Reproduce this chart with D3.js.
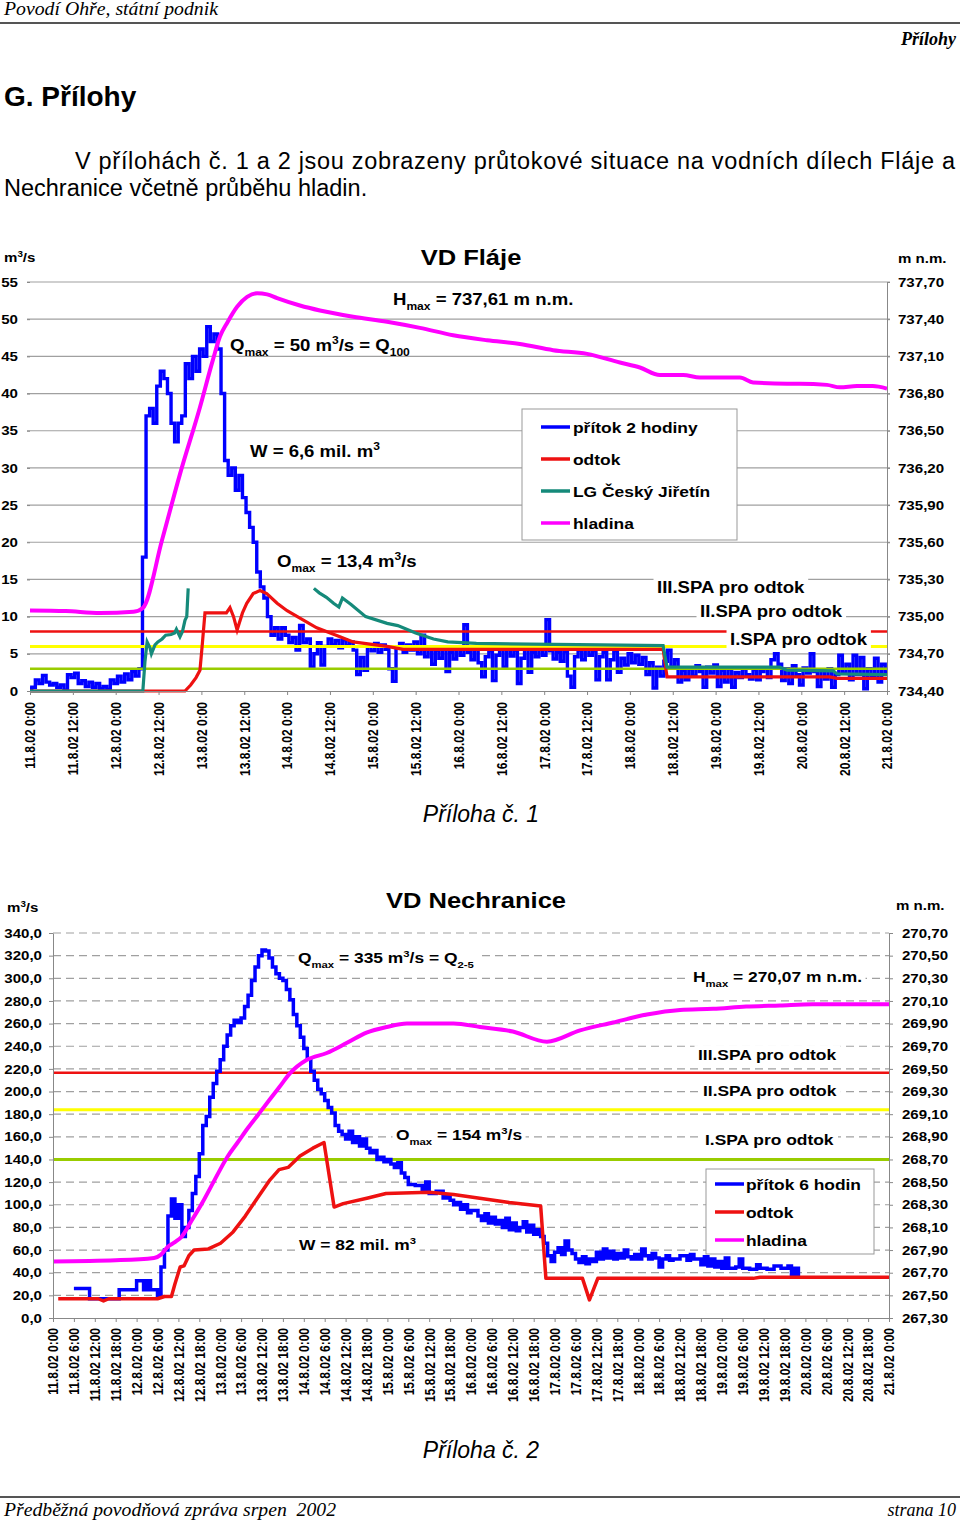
<!DOCTYPE html>
<html><head><meta charset="utf-8">
<script src="https://cdnjs.cloudflare.com/ajax/libs/d3/7.8.5/d3.min.js"></script>
<style>body{margin:0;background:#fff}svg{display:block}</style>
</head><body>
<svg id="page" width="960" height="1522"></svg>
<script>
// ---------------- DATA ----------------
// VD Fláje (hours from 11.8.2002 0:00)
const flajeXLabels = ["11.8.02 0:00","11.8.02 12:00","12.8.02 0:00","12.8.02 12:00","13.8.02 0:00","13.8.02 12:00","14.8.02 0:00","14.8.02 12:00","15.8.02 0:00","15.8.02 12:00","16.8.02 0:00","16.8.02 12:00","17.8.02 0:00","17.8.02 12:00","18.8.02 0:00","18.8.02 12:00","19.8.02 0:00","19.8.02 12:00","20.8.02 0:00","20.8.02 12:00","21.8.02 0:00"];
const flajeLeftTicks = [0,5,10,15,20,25,30,35,40,45,50,55];
const flajeRightTicks = [734.4,734.7,735.0,735.3,735.6,735.9,736.2,736.5,736.8,737.1,737.4,737.7];
// přítok 2 hodiny – hourly values h0..h240
const flajeInflow = [
0.3,0.5,1.5,1.0,2.1,1.2,0.8,1.0,0.5,0.8,
0.1,2.2,1.8,2.4,1.0,1.4,0.6,1.2,0.5,1.0,
0.3,0.6,0.2,1.5,1.0,2.0,1.2,2.3,1.5,2.6,
2.0,3.0,18,37,38,36,41,43,42,40,
36,33.5,36,37,44,42,45,43,46,45,
49,47,48,46,40,31,29,30,27,29,
26,24,22,20,16,14,12.5,10,7.5,8.5,
7,8.5,7.5,6.5,7.2,5.5,8.8,6.5,7,3.2,
5,6.5,3.5,6,7,6.2,6.8,5.8,6.9,6.1,
6.6,5.5,2.2,4.5,2.8,6,5.4,6.4,5.2,6.2,
5.6,3,1.3,5.8,6.4,5.2,6.2,5.5,6.6,5,
7.5,4.6,5.8,3.6,5.5,4.4,5.9,2.6,5.2,4.3,
5.8,4.8,8.9,5.2,4.2,5.6,3.8,1.9,4.6,5.4,
1.4,4.8,5.7,3.2,5.9,4.7,5.5,1,4.4,5.6,
2.5,5.2,4.6,5.8,4.8,9.6,5.4,4.3,5.2,4,
5.3,2,0.5,4.6,5.5,4.2,6,4.8,5.4,1.5,
4.6,5.2,1.5,4.2,5.4,2.5,4.4,3.5,5,3.8,
4.8,3.6,4.5,2.2,3.8,0.4,3.2,2,4,5.5,
3.2,4.2,1.2,2.8,1.5,3,2,3.4,2.6,0.5,
3.2,2.4,3.5,0.6,2.8,1.2,3,0.5,2.5,1.8,
3,2.2,1.6,2.9,1.5,2.6,3.1,1.8,4.2,5,
3.6,1.4,3,1,3.4,2.2,0.8,3.1,2.4,5,
2.6,0.6,2.8,1.6,3,0.5,2.2,4.8,2.4,3.6,
1.5,4.8,2.2,4.5,0.3,3,2,4.4,1.2,3.6,
2.5];
// odtok [hour, m3/s]
const flajeOutflow = [[0,0],[43.4,0],[45,0.8],[46.5,1.8],[47.6,2.8],[48.2,6],[49,10.5],[55,10.5],[56,11.2],[57,10],[58,8.2],[59.5,10.5],[60.7,11.8],[62.5,13.1],[64.4,13.5],[66.3,13.1],[69.2,11.8],[72,10.8],[75.6,9.8],[80.3,8.5],[83,8],[86.8,7.3],[90.5,6.6],[95.2,6.3],[100,6.0],[104.5,5.6],[177.3,5.6],[178.4,1.9],[224,1.9],[226,1.7],[240,1.7]];
// LG Český Jiřetín [hour, m3/s] (null = gap)
const flajeCJ = [[0,0],[31.6,0],[32.2,4],[32.8,6.6],[33.6,5.8],[34,5],[35,6.2],[35.8,6.6],[37,7],[38,7.5],[39.5,7.6],[40.5,7.8],[41,8.3],[42,7.3],[42.7,8],[43.4,9.5],[43.9,10],[44.3,13.8],[44.4,null],[79.5,13.8],[81,13.2],[83,12.6],[85,11.8],[86.5,11.3],[87.5,12.5],[90,11.6],[94,10],[100,9.1],[103,8.8],[108,7.8],[113,7],[117,6.6],[125,6.4],[140,6.3],[160,6.2],[177.3,6.1],[178.4,3.2],[210,3.2],[212,2.8],[225,2.7],[226,2.3],[240,2.2]];
// hladina [hour, m n.m.]
const flajeLevel = [[0,735.05],[10,735.045],[19.6,735.03],[29,735.04],[31.6,735.07],[37,735.62],[42,736.15],[47.6,736.69],[51.2,737.07],[53.2,737.26],[55.2,737.37],[58,737.50],[60.8,737.58],[63.6,737.61],[66.4,737.60],[69.2,737.57],[75.6,737.51],[81.2,737.47],[90.5,737.42],[100,737.38],[109.2,737.33],[118.5,737.27],[128,737.23],[137.2,737.20],[146.5,737.15],[156,737.12],[165.2,737.05],[170.8,737.01],[176.4,736.95],[182.9,736.95],[187.6,736.93],[194,736.93],[198.8,736.93],[202.5,736.89],[212,736.88],[215.6,736.88],[223.2,736.87],[226.8,736.85],[231.6,736.86],[236,736.86],[240,736.84]];
const flajeThresholds = [8, 6, 3];
const flajeSPALabels = ["III.SPA pro odtok","II.SPA pro odtok","I.SPA pro odtok"];
const flajeLegend = ["přítok 2 hodiny","odtok","LG Český Jiřetín","hladina"];

// VD Nechranice
const nechXLabels = ["11.8.02 0:00","11.8.02 6:00","11.8.02 12:00","11.8.02 18:00","12.8.02 0:00","12.8.02 6:00","12.8.02 12:00","12.8.02 18:00","13.8.02 0:00","13.8.02 6:00","13.8.02 12:00","13.8.02 18:00","14.8.02 0:00","14.8.02 6:00","14.8.02 12:00","14.8.02 18:00","15.8.02 0:00","15.8.02 6:00","15.8.02 12:00","15.8.02 18:00","16.8.02 0:00","16.8.02 6:00","16.8.02 12:00","16.8.02 18:00","17.8.02 0:00","17.8.02 6:00","17.8.02 12:00","17.8.02 18:00","18.8.02 0:00","18.8.02 6:00","18.8.02 12:00","18.8.02 18:00","19.8.02 0:00","19.8.02 6:00","19.8.02 12:00","19.8.02 18:00","20.8.02 0:00","20.8.02 6:00","20.8.02 12:00","20.8.02 18:00","21.8.02 0:00"];
const nechLeftTicks = [0,20,40,60,80,100,120,140,160,180,200,220,240,260,280,300,320,340];
const nechRightTicks = [267.3,267.5,267.7,267.9,268.1,268.3,268.5,268.7,268.9,269.1,269.3,269.5,269.7,269.9,270.1,270.3,270.5,270.7];
const nechInflow = [[6,26],[9.5,26],[10.5,17],[18,17],[19,25],[23,25],[24,33],[25.5,33],[26,25],[27,33],[28,25],[30,20],[31,45],[32,60],[33,90],[34,105],[35,88],[36,100],[37,72],[38,80],[39,95],[40,110],[41,125],[42,145],[43,170],[44,178],[45,195],[46,207],[47,218],[48,228],[49,240],[50,250],[51,258],[52,263],[53,261],[54,265],[55,275],[56,285],[57,298],[58,310],[59,320],[60,325],[61,324],[62,318],[63,310],[64,304],[65,300],[66,298],[67,290],[68,281],[69,268],[70,258],[71,248],[72,238],[73,229],[74,218],[75,210],[76,202],[77,198],[78,192],[79,186],[80,181],[81,170],[82,165],[83,162],[84,158],[85,165],[86,155],[87,160],[88,152],[89,158],[90,150],[91,146],[92,148],[93,140],[94,142],[95,138],[96,140],[97,136],[98,133],[99,137],[100,128],[101,124],[102,118],[104,117],[106,112],[107,120],[108,110],[110,112],[112,106],[113,107],[114,104],[115,100],[116,102],[117,96],[118,100],[119,93],[120,95],[122,90],[123,86],[124,92],[125,84],[126,89],[127,83],[128,86],[129,80],[130,88],[131,78],[132,84],[133,77],[134,80],[135,85],[136,76],[137,82],[138,74],[139,78],[140,72],[141,66],[142,55],[143,50],[144,58],[145,62],[146,56],[147,68],[148,60],[149,57],[150,52],[151,49],[152,54],[153,48],[154,52],[155,50],[156,58],[157,52],[158,61],[159,53],[160,59],[161,52],[162,57],[163,53],[164,60],[165,54],[166,52],[167,56],[168,52],[169,61],[170,55],[171,52],[172,57],[173,53],[174,45],[175,52],[176,55],[177,51],[178,52],[180,55],[182,51],[183,56],[184,52],[186,47],[187,54],[188,46],[189,52],[190,45],[191,50],[192,44],[193,53],[194,44],[196,45],[197,52],[198,44],[200,43],[202,47],[203,44],[205,43],[207,46],[209,44],[211,46],[212,38],[213,44],[214,35]];
const nechOutflow = [[1.5,17],[13,17],[14.5,15],[16,17],[30,17],[32,19],[34,19],[35,30],[36.5,45],[37.6,46],[39,55],[40.5,60],[44.6,61],[48.1,66],[51.7,76],[55.2,90],[58.7,106],[62.3,122],[64.9,131],[67.5,133],[70.9,143],[74.6,150],[77.8,155],[80.7,98],[83.3,101],[90.4,106],[95.6,110],[108,111],[115,109],[122,106],[131,102],[140,99],[141.5,35],[152,35],[154,16],[156.4,35],[201,35],[203,36],[240,36]];
const nechLevel = [[0,267.80],[18,267.81],[29,267.83],[31,267.86],[33,267.93],[35,267.97],[37,268.02],[39.4,268.14],[42.9,268.32],[46.4,268.52],[50,268.72],[53,268.85],[56,268.98],[59,269.10],[62,269.22],[65,269.34],[68,269.46],[72.9,269.58],[78.6,269.64],[84.4,269.73],[90,269.82],[95.8,269.87],[101.6,269.90],[109,269.90],[115,269.90],[122.6,269.87],[132,269.83],[141.8,269.74],[151.3,269.84],[160.8,269.91],[170.5,269.98],[180,270.02],[189.5,270.03],[199,270.05],[208.7,270.06],[218,270.07],[240,270.07]];
const nechThresholds = [216.5, 184, 140];
const nechSPALabels = ["III.SPA pro odtok","II.SPA pro odtok","I.SPA pro odtok"];
const nechLegend = ["přítok 6 hodin","odtok","hladina"];

// ---------------- DRAWING ----------------
const FONT = "'Liberation Sans', Arial, Helvetica, sans-serif";
const SERIF = "'Liberation Serif', 'Times New Roman', serif";
const SX = 1.16;
const C = {blue:'#0000ff', red:'#ee1111', teal:'#158a7a', mag:'#ff00ff', yellow:'#ffff00', green:'#99cc00', grid:'#a0a0a0', axis:'#888'};
const svg = d3.select('#page');
const t0 = new Date(2002,7,11,0,0);
const at = h => d3.timeMinute.offset(t0, Math.round(h*60));
const fmtC = p => d => d3.format('.'+p+'f')(d).replace('.', ',');

function stext(parent, x, y, parts, o = {}) {
  const size = o.size || 16;
  const g = parent.append('g').attr('transform', `translate(${x},${y}) scale(${SX},1)`);
  const bg = o.bg ? g.append('rect').attr('fill', '#fff') : null;
  const t = g.append('text').attr('font-family', FONT).attr('font-weight', 'bold')
    .attr('font-size', size).attr('text-anchor', o.anchor || 'start').attr('fill', '#000');
  if (typeof parts === 'string') parts = [[parts]];
  let cur = 0;
  parts.forEach(([s, k]) => {
    const off = k === 'sub' ? size*0.3 : (k === 'sup' ? -size*0.42 : 0);
    const ts = t.append('tspan').attr('dy', off - cur).text(s);
    if (k) ts.attr('font-size', size*0.65);
    cur = off;
  });
  if (bg) {
    const b = t.node().getBBox();
    bg.attr('x', b.x - 3).attr('y', b.y - 1).attr('width', b.width + 6).attr('height', b.height + 2);
  }
  return g;
}

// ---- page header ----
svg.append('text').attr('x',4).attr('y',15).attr('font-family',SERIF).attr('font-style','italic')
  .attr('font-size',18).attr('textLength',214).attr('lengthAdjust','spacingAndGlyphs').text('Povodí Ohře, státní podnik');
svg.append('line').attr('x1',0).attr('x2',960).attr('y1',23).attr('y2',23).attr('stroke','#555').attr('stroke-width',2);
svg.append('text').attr('x',956).attr('y',45).attr('text-anchor','end').attr('font-family',SERIF)
  .attr('font-style','italic').attr('font-weight','bold').attr('font-size',18).text('Přílohy');
svg.append('text').attr('x',4).attr('y',106).attr('font-family',FONT).attr('font-weight','bold')
  .attr('font-size',28).text('G. Přílohy');
svg.append('text').attr('x',75).attr('y',169).attr('font-family',FONT).attr('font-size',23.5)
  .attr('textLength',880).attr('lengthAdjust','spacing')
  .text('V přílohách č. 1 a 2 jsou zobrazeny průtokové situace na vodních dílech Fláje a');
svg.append('text').attr('x',4).attr('y',196).attr('font-family',FONT).attr('font-size',23.5)
  .text('Nechranice včetně průběhu hladin.');

// ================= CHART 1: VD Fláje =================
{
  const g = svg.append('g');
  const x = d3.scaleTime().domain([t0, at(240)]).range([30, 887]);
  const y = d3.scaleLinear().domain([0,55]).range([691,282]);
  const yr = d3.scaleLinear().domain([734.4,737.7]).range([691,282]);

  g.selectAll('line.grid').data(flajeLeftTicks.filter(v => v > 0)).join('line')
    .attr('x1', 27).attr('x2', 890).attr('y1', d => y(d)).attr('y2', d => y(d))
    .attr('stroke', C.grid).attr('stroke-width', 1.2);

  // inflow (blue) – blocky like the source
  g.append('path').datum(flajeInflow).attr('fill','none').attr('stroke',C.blue).attr('stroke-width',3.4)
    .attr('d', d3.line().curve(d3.curveStep).x((d,i) => x(at(i))).y(d => y(d)));

  const thCol = [C.red, C.yellow, C.green], thW = [2.5, 3, 2.5];
  g.selectAll('line.th').data(flajeThresholds).join('line')
    .attr('x1', 30).attr('x2', 887).attr('y1', d => y(d)).attr('y2', d => y(d))
    .attr('stroke', (d,i) => thCol[i]).attr('stroke-width', (d,i) => thW[i]);

  g.append('path').datum(flajeOutflow).attr('fill','none').attr('stroke',C.red).attr('stroke-width',3.2)
    .attr('d', d3.line().x(d => x(at(d[0]))).y(d => y(d[1])));
  g.append('path').datum(flajeCJ).attr('fill','none').attr('stroke',C.teal).attr('stroke-width',3.2)
    .attr('d', d3.line().defined(d => d[1] !== null).x(d => x(at(d[0]))).y(d => y(d[1])));
  g.append('path').datum(flajeLevel).attr('fill','none').attr('stroke',C.mag).attr('stroke-width',4)
    .attr('stroke-linejoin','round')
    .attr('d', d3.line().curve(d3.curveMonotoneX).x(d => x(at(d[0]))).y(d => yr(d[1])));

  const aL = g.append('g').attr('transform','translate(30,0)')
    .call(d3.axisLeft(y).tickValues(flajeLeftTicks).tickSize(3).tickSizeOuter(0).tickFormat(d3.format('d')));
  aL.select('.domain').attr('stroke','none');
  aL.selectAll('.tick line').attr('stroke', C.axis);
  aL.selectAll('.tick text').attr('x', -12/SX).attr('transform', `scale(${SX},1)`)
    .attr('font-family',FONT).attr('font-weight','bold').attr('font-size',13).attr('fill','#000');

  const aR = g.append('g').attr('transform','translate(887,0)')
    .call(d3.axisRight(yr).tickValues(flajeRightTicks).tickSize(3).tickSizeOuter(0).tickFormat(fmtC(2)));
  aR.select('.domain').attr('stroke', C.axis);
  aR.selectAll('.tick line').attr('stroke', C.axis);
  aR.selectAll('.tick text').attr('x', 11/SX).attr('transform', `scale(${SX},1)`)
    .attr('font-family',FONT).attr('font-weight','bold').attr('font-size',13).attr('fill','#000');

  const aB = g.append('g').attr('transform','translate(0,691)')
    .call(d3.axisBottom(x).tickValues(flajeXLabels.map((_,i) => at(i*12))).tickSize(4).tickSizeOuter(0)
      .tickFormat((d,i) => flajeXLabels[i]));
  aB.select('.domain').attr('stroke', C.axis);
  aB.selectAll('.tick line').attr('stroke', C.axis);
  aB.selectAll('.tick text').attr('transform', `scale(${SX},1) rotate(-90)`).attr('x',-11).attr('y',0)
    .attr('dy','0.35em').attr('text-anchor','end')
    .attr('font-family',FONT).attr('font-weight','bold').attr('font-size',12).attr('fill','#000');

  stext(g, 471, 265, 'VD Fláje', {size:22, anchor:'middle'});
  stext(g, 4, 262, [['m'],['3','sup'],['/s']], {size:13});
  stext(g, 898, 263, 'm n.m.', {size:13});

  stext(g, 393, 305, [['H'],['max','sub'],[' = 737,61 m n.m.']]);
  stext(g, 230, 351, [['Q'],['max','sub'],[' = 50 m'],['3','sup'],['/s = Q'],['100','sub']]);
  stext(g, 250, 457, [['W = 6,6 mil. m'],['3','sup']]);
  stext(g, 277, 567, [['O'],['max','sub'],[' = 13,4 m'],['3','sup'],['/s']]);

  const spaPos = [[657,593],[700,617],[730,645]];
  flajeSPALabels.forEach((s,i) => stext(g, spaPos[i][0], spaPos[i][1], s, {bg:true}));

  g.append('rect').attr('x',522).attr('y',409).attr('width',215).attr('height',131)
    .attr('fill','#fff').attr('stroke','#999').attr('stroke-width',1);
  const lc = [C.blue, C.red, C.teal, C.mag];
  flajeLegend.forEach((s,i) => {
    const by = 433 + i*32;
    g.append('line').attr('x1',541).attr('x2',570).attr('y1',by-6).attr('y2',by-6)
      .attr('stroke', lc[i]).attr('stroke-width', 3.5);
    stext(g, 573, by, s, {size:15});
  });
}

svg.append('text').attr('x',481).attr('y',822).attr('text-anchor','middle').attr('font-family',FONT)
  .attr('font-style','italic').attr('font-size',23).text('Příloha č. 1');

// ================= CHART 2: VD Nechranice =================
{
  const g = svg.append('g');
  const x = d3.scaleTime().domain([t0, at(240)]).range([53, 889]);
  const y = d3.scaleLinear().domain([0,340]).range([1318,933]);
  const yr = d3.scaleLinear().domain([267.3,270.7]).range([1318,933]);

  g.selectAll('line.grid').data(nechLeftTicks.filter(v => v > 0)).join('line')
    .attr('x1', 53).attr('x2', 889).attr('y1', d => y(d)).attr('y2', d => y(d))
    .attr('stroke', C.grid).attr('stroke-width', 1.2).attr('stroke-dasharray','8,5');

  const thCol = [C.red, C.yellow, C.green], thW = [2.5, 3, 3];
  g.selectAll('line.th').data(nechThresholds).join('line')
    .attr('x1', 53).attr('x2', 889).attr('y1', d => y(d)).attr('y2', d => y(d))
    .attr('stroke', (d,i) => thCol[i]).attr('stroke-width', (d,i) => thW[i]);

  g.append('path').datum(nechInflow).attr('fill','none').attr('stroke',C.blue).attr('stroke-width',3.5)
    .attr('d', d3.line().curve(d3.curveStepAfter).x(d => x(at(d[0]))).y(d => y(d[1])));
  g.append('path').datum(nechOutflow).attr('fill','none').attr('stroke',C.red).attr('stroke-width',3.5)
    .attr('stroke-linejoin','round')
    .attr('d', d3.line().x(d => x(at(d[0]))).y(d => y(d[1])));
  g.append('path').datum(nechLevel).attr('fill','none').attr('stroke',C.mag).attr('stroke-width',4)
    .attr('d', d3.line().curve(d3.curveMonotoneX).x(d => x(at(d[0]))).y(d => yr(d[1])));

  const aL = g.append('g').attr('transform','translate(53,0)')
    .call(d3.axisLeft(y).tickValues(nechLeftTicks).tickSize(4).tickSizeOuter(0).tickFormat(fmtC(1)));
  aL.select('.domain').attr('stroke', C.axis);
  aL.selectAll('.tick line').attr('stroke', C.axis);
  aL.selectAll('.tick text').attr('x', -11/SX).attr('transform', `scale(${SX},1)`)
    .attr('font-family',FONT).attr('font-weight','bold').attr('font-size',13).attr('fill','#000');

  const aR = g.append('g').attr('transform','translate(889,0)')
    .call(d3.axisRight(yr).tickValues(nechRightTicks).tickSize(4).tickSizeOuter(0).tickFormat(fmtC(2)));
  aR.select('.domain').attr('stroke', C.axis);
  aR.selectAll('.tick line').attr('stroke', C.axis);
  aR.selectAll('.tick text').attr('x', 13/SX).attr('transform', `scale(${SX},1)`)
    .attr('font-family',FONT).attr('font-weight','bold').attr('font-size',13).attr('fill','#000');

  const aB = g.append('g').attr('transform','translate(0,1318)')
    .call(d3.axisBottom(x).tickValues(nechXLabels.map((_,i) => at(i*6))).tickSize(4).tickSizeOuter(0)
      .tickFormat((d,i) => nechXLabels[i]));
  aB.select('.domain').attr('stroke', C.axis);
  aB.selectAll('.tick line').attr('stroke', C.axis);
  aB.selectAll('.tick text').attr('transform', `scale(${SX},1) rotate(-90)`).attr('x',-10).attr('y',0)
    .attr('dy','0.35em').attr('text-anchor','end')
    .attr('font-family',FONT).attr('font-weight','bold').attr('font-size',12).attr('fill','#000');

  stext(g, 476, 908, 'VD Nechranice', {size:22, anchor:'middle'});
  stext(g, 7, 912, [['m'],['3','sup'],['/s']], {size:13});
  stext(g, 896, 910, 'm n.m.', {size:13});

  stext(g, 298, 963, [['Q'],['max','sub'],[' = 335 m'],['3','sup'],['/s = Q'],['2-5','sub']], {size:15, bg:true});
  stext(g, 693, 982, [['H'],['max','sub'],[' = 270,07 m n.m.']], {size:15, bg:true});
  stext(g, 396, 1140, [['O'],['max','sub'],[' = 154 m'],['3','sup'],['/s']], {size:15, bg:true});
  stext(g, 299, 1250, [['W = 82 mil. m'],['3','sup']], {size:15, bg:true});

  const spaPos = [[698,1060],[703,1096],[705,1145]];
  nechSPALabels.forEach((s,i) => stext(g, spaPos[i][0], spaPos[i][1], s, {size:15, bg:true}));

  g.append('rect').attr('x',706).attr('y',1169).attr('width',168).attr('height',85)
    .attr('fill','#fff').attr('stroke','#999').attr('stroke-width',1);
  const lc = [C.blue, C.red, C.mag];
  nechLegend.forEach((s,i) => {
    const by = 1190 + i*28;
    g.append('line').attr('x1',715).attr('x2',744).attr('y1',by-6).attr('y2',by-6)
      .attr('stroke', lc[i]).attr('stroke-width', 3.5);
    stext(g, 746, by, s, {size:15});
  });
}

svg.append('text').attr('x',481).attr('y',1458).attr('text-anchor','middle').attr('font-family',FONT)
  .attr('font-style','italic').attr('font-size',23).text('Příloha č. 2');

// ---- footer ----
svg.append('line').attr('x1',0).attr('x2',960).attr('y1',1497).attr('y2',1497).attr('stroke','#555').attr('stroke-width',2);
svg.append('text').attr('x',4).attr('y',1516).attr('font-family',SERIF).attr('font-style','italic')
  .attr('font-size',18).attr('textLength',332).attr('lengthAdjust','spacingAndGlyphs')
  .style('white-space','pre').text('Předběžná povodňová zpráva srpen  2002');
svg.append('text').attr('x',956).attr('y',1516).attr('text-anchor','end').attr('font-family',SERIF)
  .attr('font-style','italic').attr('font-size',18).text('strana 10');
</script>
</body></html>
